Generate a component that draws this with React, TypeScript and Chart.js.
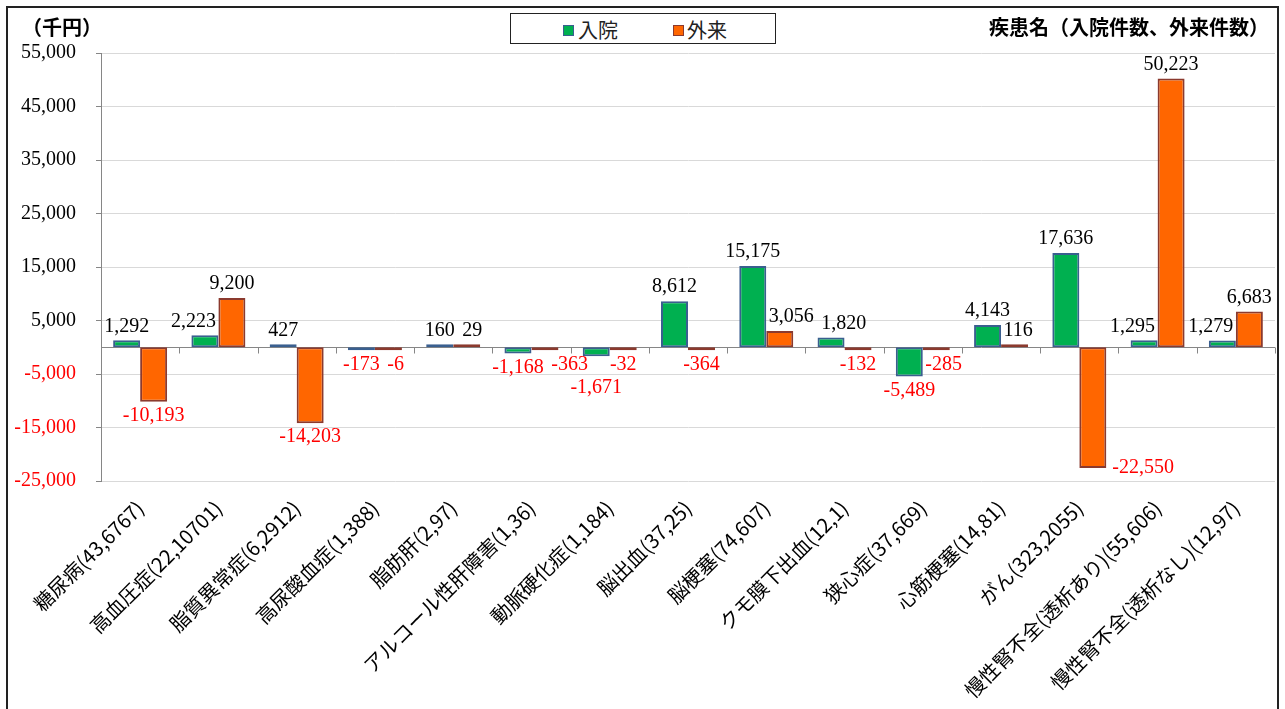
import React, { useEffect, useRef } from "react";
import { Chart, registerables } from "chart.js";

Chart.register(...registerables);

// ---- data ----
const categories = [
  "糖尿病(43,6767)",
  "高血圧症(22,10701)",
  "脂質異常症(6,2912)",
  "高尿酸血症(1,388)",
  "脂肪肝(2,97)",
  "アルコール性肝障害(1,36)",
  "動脈硬化症(1,184)",
  "脳出血(37,25)",
  "脳梗塞(74,607)",
  "クモ膜下出血(12,1)",
  "狭心症(37,669)",
  "心筋梗塞(14,81)",
  "がん(323,2055)",
  "慢性腎不全(透析あり)(55,606)",
  "慢性腎不全(透析なし)(12,97)",
];
const inpatient = [1292, 2223, 427, -173, 160, -1168, -1671, 8612, 15175, 1820, -5489, 4143, 17636, 1295, 1279];
const outpatient = [-10193, 9200, -14203, -6, 29, -363, -32, -364, 3056, -132, -285, 116, -22550, 50223, 6683];
const seriesNames = ["入院", "外来"];
const yMin = -25000;
const yMax = 55000;
const yStep = 10000;
const unitLabel = "（千円）";
const categoryTitle = "疾患名（入院件数、外来件数）";

// ---- styles ----
const GREEN = "#00B050";
const GREEN_BORDER = "#3A5F8F";
const ORANGE = "#FF6600";
const ORANGE_BORDER = "#8B3A2E";
const NEG_RED = "#FF0000";
const SERIF = '"Liberation Serif", "DejaVu Serif", serif';
const JP = '"Noto Sans CJK JP", "Noto Sans", sans-serif';

const fmt = (v: number) => v.toLocaleString("en-US");

type Box = { l: number; r: number; t: number; b: number; pad: number };
const hit = (a: Box, o: Box) =>
  a.l < o.r + o.pad && a.r > o.l - o.pad && a.t < o.b && a.b > o.t;

const decorPlugin = {
  id: "decor",
  beforeDatasetsDraw(chart: any) {
    const { ctx, chartArea, scales } = chart;
    const y0 = Math.round(scales.y.getPixelForValue(0)) + 0.5;
    ctx.save();
    ctx.strokeStyle = "#868686";
    ctx.lineWidth = 1;
    ctx.beginPath();
    ctx.moveTo(chartArea.left, y0);
    ctx.lineTo(chartArea.right, y0);
    for (let i = 0; i <= categories.length; i++) {
      const x = Math.round(scales.x.getPixelForValue(i - 0.5)) + 0.5;
      ctx.moveTo(x, y0);
      ctx.lineTo(x, y0 + 6);
    }
    ctx.stroke();
    ctx.restore();
  },
  afterDatasetsDraw(chart: any) {
    const { ctx, chartArea } = chart;
    const metas = [chart.getDatasetMeta(0), chart.getDatasetMeta(1)];
    const series = [inpatient, outpatient];
    const H = 14;
    const OFF = 14;
    const BAR_GAP = 2;
    const LABEL_GAP = 7;
    const MAXS = 25;
    const rectOf = (b: any): Box => ({
      l: b.x - b.width / 2,
      r: b.x + b.width / 2,
      t: Math.min(b.y, b.base),
      b: Math.max(b.y, b.base),
      pad: BAR_GAP,
    });
    const barRects: { i: number; k: number; box: Box }[] = [];
    metas.forEach((m: any, k: number) =>
      m.data.forEach((b: any, i: number) => barRects.push({ i, k, box: rectOf(b) }))
    );
    const placed: Box[] = [];
    ctx.save();
    ctx.font = `20px ${SERIF}`;
    ctx.textBaseline = "middle";
    ctx.textAlign = "center";
    for (let i = 0; i < categories.length; i++) {
      for (let k = 0; k < 2; k++) {
        const v = series[k][i];
        const text = fmt(v);
        const w = ctx.measureText(text).width;
        const bar = metas[k].data[i] as any;
        const dir = v >= 0 ? -1 : 1;
        const baseY = bar.y + dir * OFF;
        const mk = (cx: number, cy: number, pad: number): Box => ({
          l: cx - w / 2,
          r: cx + w / 2,
          t: cy - H / 2,
          b: cy + H / 2,
          pad,
        });
        const obstacles: Box[] = [
          ...placed,
          ...barRects.filter((r) => !(r.i === i && r.k === k)).map((r) => r.box),
        ];
        const tryDir = (cy: number, toLeft: boolean) => {
          let cx = bar.x;
          for (let it = 0; it < 6; it++) {
            const bx = mk(cx, cy, 0);
            if (bx.t < chartArea.top || bx.b > chartArea.bottom) return null;
            if (bx.l < chartArea.left || bx.r > chartArea.right + 2) return null;
            const conf = obstacles.filter((o) => hit(bx, o));
            if (!conf.length) return { cx, cy };
            if (toLeft) cx = Math.min(...conf.map((o) => o.l - o.pad)) - 0.5 - w / 2;
            else cx = Math.max(...conf.map((o) => o.r + o.pad)) + 0.5 + w / 2;
            if (Math.abs(cx - bar.x) > MAXS) return null;
          }
          return null;
        };
        let chosen: { cx: number; cy: number } | null = null;
        for (let step = 0; step < 3 && !chosen; step++) {
          const cy = baseY + dir * step * (H + 4);
          chosen = tryDir(cy, k === 0) || tryDir(cy, k !== 0);
        }
        if (!chosen) {
          const own = rectOf(bar);
          chosen = { cx: own.r + 6 + w / 2, cy: bar.y };
        }
        placed.push(mk(chosen.cx, chosen.cy, LABEL_GAP));
        ctx.fillStyle = v < 0 ? NEG_RED : "#000000";
        ctx.fillText(text, chosen.cx, chosen.cy);
      }
    }
    ctx.restore();
  },
  afterDraw(chart: any) {
    const { ctx } = chart;
    ctx.save();
    ctx.strokeStyle = "#222222";
    ctx.lineWidth = 2;
    ctx.strokeRect(7, 7, 1271, 800);
    ctx.restore();
  },
};

export default function App() {
  const ref = useRef<HTMLCanvasElement | null>(null);

  useEffect(() => {
    if (!ref.current) return;
    const chart = new Chart(ref.current, {
      type: "bar",
      data: {
        labels: categories,
        datasets: [
          {
            label: seriesNames[0],
            data: inpatient,
            backgroundColor: GREEN,
            borderColor: GREEN_BORDER,
            borderWidth: 2,
            borderSkipped: false,
            minBarLength: 3,
            categoryPercentage: 0.69,
            barPercentage: 1,
          },
          {
            label: seriesNames[1],
            data: outpatient,
            backgroundColor: ORANGE,
            borderColor: ORANGE_BORDER,
            borderWidth: 2,
            borderSkipped: false,
            minBarLength: 3,
            categoryPercentage: 0.69,
            barPercentage: 1,
          },
        ],
      },
      options: {
        animation: false,
        responsive: true,
        maintainAspectRatio: false,
        events: [],
        layout: { padding: { top: 53, right: 10, left: 0, bottom: 0 } },
        plugins: {
          legend: { display: false },
          tooltip: { enabled: false },
          title: { display: false },
        },
        scales: {
          x: {
            grid: { display: false, drawTicks: false },
            border: { display: false },
            ticks: {
              autoSkip: false,
              maxRotation: 45,
              minRotation: 45,
              padding: 15,
              color: "#000000",
              font: { family: JP, size: 20 },
            },
            afterFit(s: any) {
              s.height = 228;
            },
          },
          y: {
            min: yMin,
            max: yMax,
            ticks: {
              stepSize: yStep,
              padding: 20,
              color: (c: any) => (c.tick && c.tick.value < 0 ? NEG_RED : "#000000"),
              font: { family: SERIF, size: 20 },
              callback: (v: any) => fmt(Number(v)),
            },
            grid: { color: "#D9D9D9", tickColor: "#868686", tickLength: 5, lineWidth: 1 },
            border: { color: "#868686", width: 1 },
            afterFit(s: any) {
              s.width = 101;
            },
          },
        },
      },
      plugins: [decorPlugin],
    });
    return () => chart.destroy();
  }, []);

  const sq = (bg: string, bd: string, left: number) => (
    <div
      style={{
        position: "absolute",
        left,
        top: 25,
        width: 11,
        height: 11,
        boxSizing: "border-box",
        background: bg,
        border: `1.5px solid ${bd}`,
      }}
    />
  );

  const textStyle = (extra: any) => ({
    position: "absolute" as const,
    fontFamily: JP,
    fontSize: 20,
    lineHeight: "20px",
    whiteSpace: "nowrap" as const,
    ...extra,
  });

  return (
    <div
      style={{
        position: "fixed",
        left: 0,
        top: 0,
        width: 1285,
        height: 709,
        background: "#ffffff",
        overflow: "hidden",
      }}
    >
      <canvas ref={ref} />
      <div style={textStyle({ left: 22, top: 17, fontWeight: 700, color: "#000" })}>{unitLabel}</div>
      <div style={textStyle({ right: 16, top: 17, fontWeight: 700, color: "#000" })}>{categoryTitle}</div>
      <div
        style={{
          position: "absolute",
          left: 510,
          top: 13,
          width: 266,
          height: 31,
          boxSizing: "border-box",
          border: "1.5px solid #222",
          background: "#fff",
        }}
      />
      {sq(GREEN, GREEN_BORDER, 563)}
      <div style={textStyle({ left: 578, top: 20, color: "#222" })}>{seriesNames[0]}</div>
      {sq(ORANGE, ORANGE_BORDER, 673)}
      <div style={textStyle({ left: 687, top: 20, color: "#222" })}>{seriesNames[1]}</div>
    </div>
  );
}
